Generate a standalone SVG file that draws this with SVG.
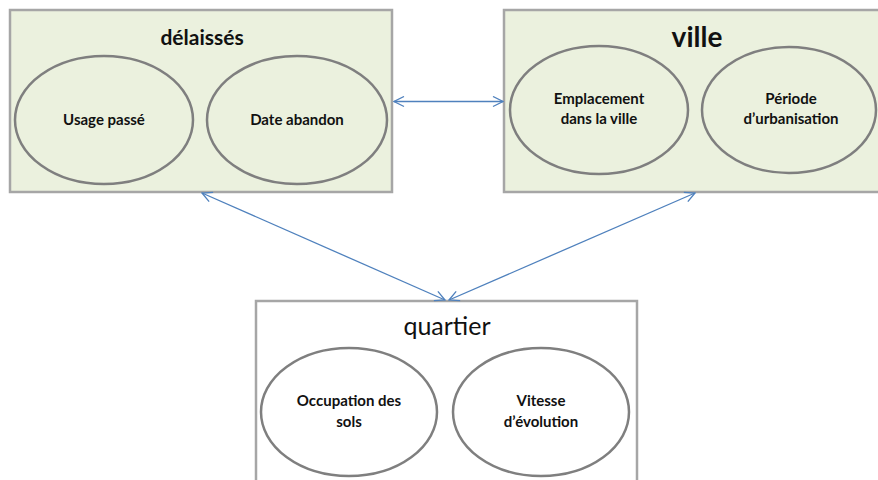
<svg xmlns="http://www.w3.org/2000/svg" width="878" height="480" viewBox="0 0 878 480">
<defs>
<style>
.box{fill:#EBF1DE;stroke:#A6A6A6;stroke-width:2.5}
.boxw{fill:#FFFFFF;stroke:#A6A6A6;stroke-width:2.5}
.ell{fill:none;stroke:#7F7F7F;stroke-width:2.5}
.t{font-family:Lato,"Open Sans","Liberation Sans",sans-serif;fill:#111;text-anchor:middle}
.lbl{font-size:15px;font-weight:bold}
.conn{stroke:#4F81BD;stroke-width:1.3;fill:none;marker-start:url(#ah);marker-end:url(#ah)}
</style>
<marker id="ah" viewBox="0 0 12 12" refX="11" refY="6" markerWidth="12" markerHeight="12" markerUnits="userSpaceOnUse" orient="auto-start-reverse">
<path d="M1,1 L11,6 L1,11" fill="none" stroke="#4F81BD" stroke-width="1.3"/>
</marker>
</defs>
<g id="delaisses">
<rect class="box" x="10" y="10" width="382" height="182"/>
<text class="t" x="202" y="45" font-size="21" font-weight="bold">délaissés</text>
<ellipse class="ell" cx="104" cy="120" rx="89" ry="64"/>
<text class="t lbl" x="104" y="125">Usage passé</text>
<ellipse class="ell" cx="297" cy="120" rx="90" ry="64"/>
<text class="t lbl" x="297" y="125">Date abandon</text>
</g>
<g id="ville">
<rect class="box" x="504" y="10" width="380" height="182"/>
<text class="t" x="697" y="47" font-size="28" font-weight="bold">ville</text>
<ellipse class="ell" cx="599" cy="110" rx="89" ry="64"/>
<text class="t lbl" x="599" y="104">Emplacement</text>
<text class="t lbl" x="599" y="124">dans la ville</text>
<ellipse class="ell" cx="789" cy="110" rx="87" ry="63"/>
<text class="t lbl" x="791" y="104">Période</text>
<text class="t lbl" x="791" y="124">d’urbanisation</text>
</g>
<g id="quartier">
<rect class="boxw" x="256" y="301" width="381" height="200"/>
<text class="t" x="447" y="335" font-size="25">quartier</text>
<ellipse class="ell" cx="349" cy="412" rx="88" ry="64"/>
<text class="t lbl" x="349" y="406">Occupation  des</text>
<text class="t lbl" x="349" y="427">sols</text>
<ellipse class="ell" cx="541" cy="412" rx="88" ry="64"/>
<text class="t lbl" x="541" y="406">Vitesse</text>
<text class="t lbl" x="541" y="427">d’évolution</text>
</g>
<g id="connectors">
<line class="conn" x1="394" y1="101.5" x2="503" y2="101.5"/>
<line class="conn" x1="202" y1="193" x2="445" y2="300"/>
<line class="conn" x1="695" y1="193" x2="449" y2="300"/>
</g>
</svg>
